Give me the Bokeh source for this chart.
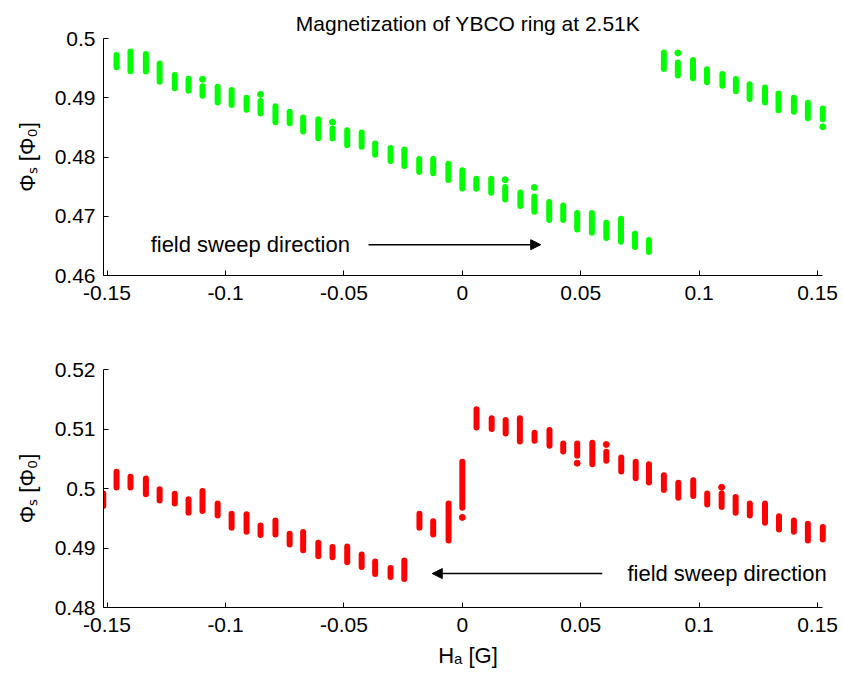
from bokeh.plotting import figure
from bokeh.layouts import column
from bokeh.models import ColumnDataSource, Range1d, FixedTicker, Arrow, NormalHead, Label
from bokeh.embed import file_html
from bokeh.resources import INLINE

FONT = "Liberation Sans"

# ---------------- data: upper panel (field swept upward) ----------------
# each field step holds a vertical cluster of readings: spanned from lo to hi
top_x = [-0.1460, -0.1401, -0.1336, -0.1278, -0.1214, -0.1156, -0.1097, -0.1033, -0.0974, -0.0911,
         -0.0852, -0.0789, -0.0729, -0.0672, -0.0608, -0.0548, -0.0486, -0.0425, -0.0368, -0.0303,
         -0.0245, -0.0182, -0.0123, -0.0059, 0.0000, 0.0059, 0.0122, 0.0181, 0.0245, 0.0304,
         0.0367, 0.0426, 0.0485, 0.0547, 0.0608, 0.0670, 0.0729, 0.0788, 0.0851, 0.0910,
         0.0974, 0.1033, 0.1098, 0.1155, 0.1213, 0.1278, 0.1335, 0.1400, 0.1459, 0.1522]
top_hi = [0.49722, 0.49780, 0.49739, 0.49576, 0.49383, 0.49322, 0.49192, 0.49187, 0.49129, 0.49001,
          0.48944, 0.48858, 0.48764, 0.48667, 0.48638, 0.48481, 0.48452, 0.48413, 0.48227, 0.48154,
          0.48125, 0.47968, 0.47968, 0.47888, 0.47775, 0.47634, 0.47634, 0.47494, 0.47402, 0.47335,
          0.47239, 0.47182, 0.47053, 0.47053, 0.46889, 0.46957, 0.46703, 0.46601, 0.49763, 0.49593,
          0.49637, 0.49480, 0.49400, 0.49316, 0.49226, 0.49175, 0.49073, 0.49001, 0.48916, 0.48819]
top_lo = [0.49514, 0.49446, 0.49441, 0.49272, 0.49159, 0.49120, 0.49035, 0.48921, 0.48876, 0.48798,
          0.48735, 0.48588, 0.48571, 0.48430, 0.48317, 0.48312, 0.48198, 0.48171, 0.48036, 0.47934,
          0.47849, 0.47748, 0.47724, 0.47612, 0.47470, 0.47465, 0.47397, 0.47284, 0.47172, 0.47076,
          0.46935, 0.46935, 0.46776, 0.46720, 0.46635, 0.46568, 0.46483, 0.46398, 0.49485, 0.49374,
          0.49328, 0.49260, 0.49204, 0.49108, 0.48977, 0.48921, 0.48791, 0.48764, 0.48656, 0.48639]
top_dot_x = [-0.1097, -0.0852, -0.0548, 0.0181, 0.0304, 0.0910, 0.1522]
top_dot_y = [0.49311, 0.49057, 0.48588, 0.47617, 0.47487, 0.49756, 0.48510]

# ---------------- data: lower panel (field swept downward) ----------------
bot_x = [-0.1516, -0.1460, -0.1401, -0.1336, -0.1278, -0.1214, -0.1156, -0.1097, -0.1033, -0.0974,
         -0.0911, -0.0852, -0.0789, -0.0729, -0.0672, -0.0608, -0.0548, -0.0486, -0.0425, -0.0368,
         -0.0303, -0.0245, -0.0181, -0.0123, -0.0058, 0.0000, 0.0060, 0.0124, 0.0183, 0.0243,
         0.0305, 0.0368, 0.0426, 0.0485, 0.0549, 0.0608, 0.0671, 0.0732, 0.0788, 0.0851,
         0.0912, 0.0975, 0.1034, 0.1095, 0.1154, 0.1214, 0.1278, 0.1337, 0.1400, 0.1459, 0.1522]
bot_hi = [0.49915, 0.50281, 0.50196, 0.50168, 0.49987, 0.49910, 0.49818, 0.49957, 0.49746, 0.49577,
          0.49566, 0.49380, 0.49464, 0.49240, 0.49269, 0.49088, 0.49016, 0.49026, 0.48891, 0.48773,
          0.48662, 0.48790, 0.49577, 0.49451, 0.49746, 0.50449, 0.51331, 0.51179, 0.51151, 0.51179,
          0.50938, 0.50982, 0.50758, 0.50758, 0.50770, 0.50617, 0.50522, 0.50449, 0.50409, 0.50223,
          0.50095, 0.50139, 0.49915, 0.49914, 0.49859, 0.49746, 0.49746, 0.49532, 0.49464, 0.49409, 0.49353]
bot_lo = [0.49706, 0.50015, 0.50015, 0.49902, 0.49800, 0.49750, 0.49593, 0.49622, 0.49547, 0.49340,
          0.49273, 0.49217, 0.49227, 0.49058, 0.48964, 0.48863, 0.48846, 0.48762, 0.48682, 0.48564,
          0.48514, 0.48480, 0.49340, 0.49227, 0.49126, 0.49677, 0.51026, 0.50998, 0.50925, 0.50790,
          0.50802, 0.50718, 0.50622, 0.50549, 0.50407, 0.50465, 0.50284, 0.50171, 0.50099, 0.49976,
          0.49846, 0.49875, 0.49733, 0.49689, 0.49593, 0.49547, 0.49424, 0.49311, 0.49273, 0.49126, 0.49143]
bot_dot_x = [0.0000, 0.0485, 0.0608, 0.1095]
bot_dot_y = [0.49514, 0.50425, 0.50740, 0.50020]

# ---------------- ticks and texts ----------------
x_ticks = [-0.15, -0.1, -0.05, 0, 0.05, 0.1, 0.15]
x_tick_labels = ["-0.15", "-0.1", "-0.05", "0", "0.05", "0.1", "0.15"]
top_y_ticks = [0.46, 0.47, 0.48, 0.49, 0.5]
top_y_tick_labels = ["0.46", "0.47", "0.48", "0.49", "0.5"]
bot_y_ticks = [0.48, 0.49, 0.5, 0.51, 0.52]
bot_y_tick_labels = ["0.48", "0.49", "0.5", "0.51", "0.52"]

title_text = "Magnetization of YBCO ring at 2.51K"
y_label = "Φₛ [Φ₀]"
x_label = "Hₐ [G]"
note_text = "field sweep direction"

X_START, X_AXIS_END, X_FRAME_END = -0.1515, 0.1521, 0.1563


def make_panel(height, y_range, yticks, ylabels, border_top, border_bottom):
    p = figure(width=843, height=height, x_range=Range1d(X_START, X_FRAME_END), y_range=Range1d(*y_range),
               output_backend="svg", toolbar_location=None,
               min_border_left=103, min_border_right=11,
               min_border_top=border_top, min_border_bottom=border_bottom)
    p.outline_line_color = None
    p.grid.visible = False
    p.background_fill_color = "white"
    p.border_fill_color = "white"
    p.xaxis.ticker = FixedTicker(ticks=x_ticks)
    p.xaxis.major_label_overrides = {t: l for t, l in zip(x_ticks, x_tick_labels)}
    p.xaxis.bounds = (X_START, X_AXIS_END)
    p.yaxis.ticker = FixedTicker(ticks=yticks)
    p.yaxis.major_label_overrides = {t: l for t, l in zip(yticks, ylabels)}
    for ax in (p.xaxis[0], p.yaxis[0]):
        ax.major_tick_in = 5
        ax.major_tick_out = 0
        ax.minor_tick_line_color = None
        ax.axis_line_color = "black"
        ax.major_tick_line_color = "black"
        ax.major_label_text_font = FONT
        ax.major_label_text_font_size = "21px"
        ax.major_label_text_color = "black"
        ax.axis_label_text_font = FONT
        ax.axis_label_text_font_size = "22px"
        ax.axis_label_text_font_style = "normal"
        ax.axis_label_text_color = "black"
    p.xaxis.major_label_standoff = 10
    p.yaxis.major_label_standoff = 8
    p.yaxis.axis_label = y_label
    p.yaxis.axis_label_standoff = 12
    return p


# upper panel
p1 = make_panel(320, (0.46, 0.5), top_y_ticks, top_y_tick_labels, 38, 45)
p1.title.text = title_text
p1.title.align = "center"
p1.title.offset = -5
p1.title.text_font = FONT
p1.title.text_font_size = "21px"
p1.title.text_font_style = "normal"
p1.title.text_color = "black"
p1.title.standoff = 8
src1 = ColumnDataSource(dict(x=top_x, hi=top_hi, lo=top_lo))
p1.segment(x0="x", y0="lo", x1="x", y1="hi", source=src1, line_color="#00ff00",
           line_width=6, line_cap="round")
p1.scatter(top_dot_x, top_dot_y, size=6, color="#00ff00")
p1.add_layout(Arrow(end=NormalHead(size=10, fill_color="black", line_color="black"),
                    x_start=-0.0396, y_start=0.4652, x_end=0.0331, y_end=0.4652,
                    line_color="black", line_width=1.5))
p1.add_layout(Label(x=-0.1316, y=0.4652, text=note_text, text_baseline="middle",
                    text_font=FONT, text_font_size="22px", text_color="black"))

# lower panel
p2 = make_panel(353, (0.48, 0.52), bot_y_ticks, bot_y_tick_labels, 49, 66)
p2.xaxis.axis_label = x_label
p2.xaxis.axis_label_standoff = 8
src2 = ColumnDataSource(dict(x=bot_x, hi=bot_hi, lo=bot_lo))
p2.segment(x0="x", y0="lo", x1="x", y1="hi", source=src2, line_color="#ff0000",
           line_width=6, line_cap="round")
p2.scatter(bot_dot_x, bot_dot_y, size=6, color="#ff0000")
p2.add_layout(Arrow(end=NormalHead(size=10, fill_color="black", line_color="black"),
                    x_start=0.0591, y_start=0.4857, x_end=-0.0127, y_end=0.4857,
                    line_color="black", line_width=1.5))
p2.add_layout(Label(x=0.0697, y=0.4857, text=note_text, text_baseline="middle",
                    text_font=FONT, text_font_size="22px", text_color="black"))

layout = column(p1, p2)
open("out.html", "w").write(file_html(layout, INLINE))
